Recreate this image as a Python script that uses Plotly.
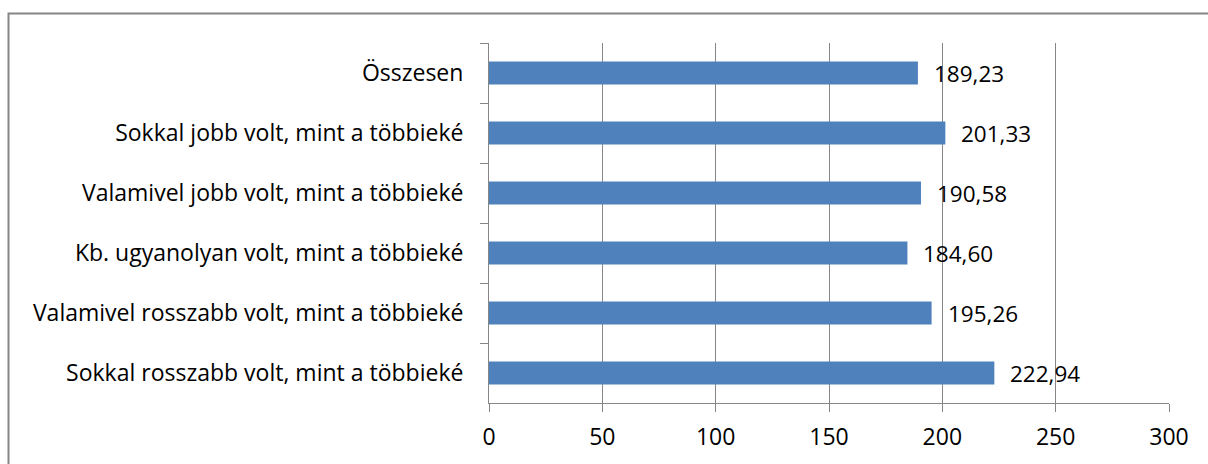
import plotly.graph_objects as go

categories = [
    "Összesen",
    "Sokkal jobb volt, mint a többieké",
    "Valamivel jobb volt, mint a többieké",
    "Kb. ugyanolyan volt, mint a többieké",
    "Valamivel rosszabb volt, mint a többieké",
    "Sokkal rosszabb volt, mint a többieké",
]
values = [189.23, 201.33, 190.58, 184.60, 195.26, 222.94]
value_labels = ["189,23", "201,33", "190,58", "184,60", "195,26", "222,94"]
x_ticks = [0, 50, 100, 150, 200, 250, 300]

FONT = "Open Sans"
GRID = "#868686"

fig = go.Figure(
    go.Bar(
        x=values,
        y=categories,
        orientation="h",
        width=0.38,
        marker=dict(color="#4F81BD", line=dict(width=0)),
        hoverinfo="skip",
    )
)

for v, lab, cat in zip(values, value_labels, categories):
    fig.add_annotation(
        x=v, y=cat, text=lab, showarrow=False,
        xanchor="left", yanchor="middle", xshift=14,
        font=dict(family=FONT, size=22.5, color="#000000"),
    )

# outer frame around the chart
fig.add_shape(
    type="rect", xref="paper", yref="paper",
    x0=(8.5 - 489) / 680, x1=(1215 - 489) / 680,
    y0=(403 - 470) / 360, y1=(403 - 13.5) / 360,
    line=dict(color=GRID, width=2), fillcolor="rgba(0,0,0,0)",
    layer="below",
)

fig.update_layout(
    width=1208, height=464,
    margin=dict(l=489, r=39, t=43, b=61),
    paper_bgcolor="white", plot_bgcolor="white",
    showlegend=False,
    font=dict(family=FONT, size=23, color="#000000"),
    xaxis=dict(
        range=[0, 300], tickvals=x_ticks, ticktext=[str(t) for t in x_ticks],
        showgrid=True, gridcolor=GRID, gridwidth=1,
        showline=True, linecolor=GRID, linewidth=1,
        ticks="outside", ticklen=8, tickcolor=GRID,
        zeroline=False, fixedrange=True,
        ticklabelstandoff=5,
        tickfont=dict(family=FONT, size=23),
    ),
    yaxis=dict(
        type="category", categoryorder="array", categoryarray=categories,
        autorange="reversed", tickson="boundaries",
        showgrid=False, showline=True, linecolor=GRID, linewidth=1,
        ticks="outside", ticklen=8, tickcolor=GRID,
        ticklabelstandoff=20,
        tickfont=dict(family=FONT, size=23),
    ),
)

fig.write_html("out.html")
